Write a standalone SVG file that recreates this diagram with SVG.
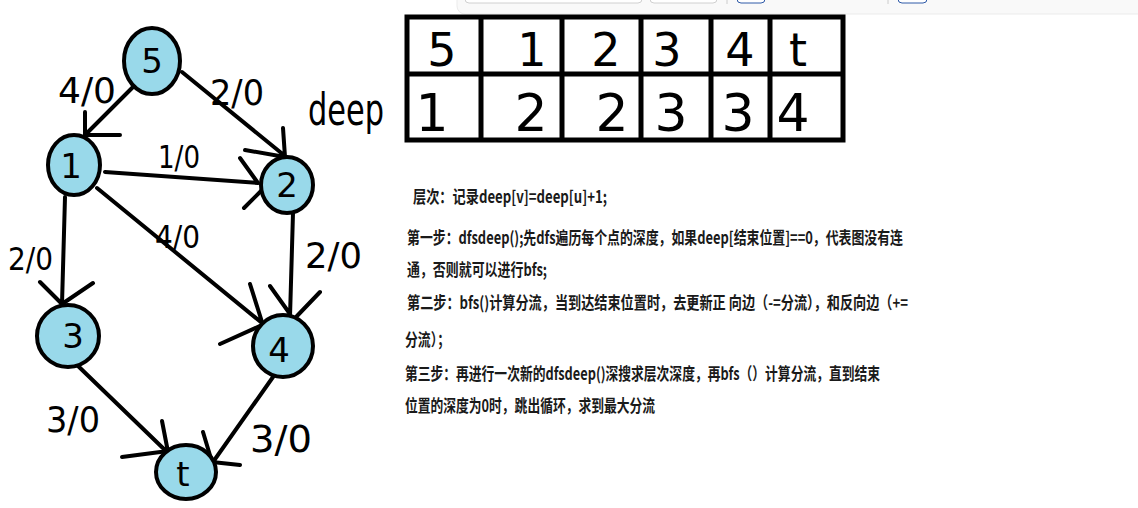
<svg xmlns="http://www.w3.org/2000/svg" width="1138" height="508" viewBox="0 0 1138 508">
<defs>
<style>
.node{fill:#99d9ea;stroke:#000;stroke-width:4}
.edge{fill:none;stroke:#000;stroke-width:4;stroke-linecap:round}
.hand{font-family:"DejaVu Sans","Liberation Sans",sans-serif;fill:#000}
.nl{font-family:"DejaVu Sans","Liberation Sans",sans-serif;font-size:34px;text-anchor:middle;fill:#000}
.tb{font-family:"DejaVu Sans","Liberation Sans",sans-serif;text-anchor:middle;fill:#000}
.zh{font-family:"Noto Sans CJK SC","Noto Sans",sans-serif;font-weight:bold;font-size:17px;fill:#1a1a1a}
</style>
</defs>
<rect width="1138" height="508" fill="#fff"/>
<g id="toolbar">
<rect x="457" y="-20" width="700" height="34" rx="8" fill="#f9f9f9" stroke="#ebebeb" stroke-width="1"/>
<rect x="465" y="-10" width="177" height="13" rx="4" fill="#fff" stroke="#d0d0d0"/>
<rect x="650" y="-10" width="67" height="13" rx="4" fill="#fff" stroke="#d0d0d0"/>
<line x1="727" y1="-2" x2="727" y2="4" stroke="#ccc"/>
<rect x="737" y="-10" width="28" height="13" rx="4" fill="#fff" stroke="#2f5aa8"/>
<line x1="888" y1="-2" x2="888" y2="4" stroke="#ccc"/>
<rect x="898" y="-10" width="29" height="13" rx="4" fill="#fff" stroke="#2f5aa8"/>
</g>
<g id="connectors">
<path class="edge" d="M133 87 L85 135 M85 112 L85 135 L120 135"/>
<path class="edge" d="M182 72 L285 156 M283 128 L285 157 M245 150 L285 157"/>
<path class="edge" d="M105 172 L258 183 M240 158 L258 183 M244 208 L262 190"/>
<path class="edge" d="M97 188 L262 323 M250 284 L262 322 M220 344 L262 325"/>
<path class="edge" d="M65 197 L62 304 M40 282 L62 304 M93 283 L62 304"/>
<path class="edge" d="M293 213 L290 317 M270 286 L290 314 M320 292 L297 316"/>
<path class="edge" d="M77 365 L167 452 M162 421 L168 452 M122 457 L168 451"/>
<path class="edge" d="M273 377 L213 462 M203 432 L212 462 M240 465 L212 462"/>
</g>
<g id="edge-labels" class="hand">
<text x="58" y="103" font-size="36" textLength="58" lengthAdjust="spacingAndGlyphs">4/0</text>
<text x="210" y="105" font-size="36" textLength="54" lengthAdjust="spacingAndGlyphs">2/0</text>
<text x="158" y="168" font-size="32" textLength="42" lengthAdjust="spacingAndGlyphs">1/0</text>
<text x="155" y="248" font-size="32" textLength="45" lengthAdjust="spacingAndGlyphs">4/0</text>
<text x="8" y="270" font-size="32" textLength="45" lengthAdjust="spacingAndGlyphs">2/0</text>
<text x="305" y="268" font-size="36" textLength="57" lengthAdjust="spacingAndGlyphs">2/0</text>
<text x="46" y="432" font-size="36" textLength="54" lengthAdjust="spacingAndGlyphs">3/0</text>
<text x="250" y="452" font-size="38" textLength="62" lengthAdjust="spacingAndGlyphs">3/0</text>
<text x="308" y="125" font-size="44" textLength="76" lengthAdjust="spacingAndGlyphs">deep</text>
</g>
<g id="node-5"><ellipse class="node" cx="152" cy="61" rx="28" ry="33"/><text class="nl" x="152" y="73">5</text></g>
<g id="node-1"><ellipse class="node" cx="74" cy="165" rx="26" ry="30"/><text class="nl" x="71" y="178">1</text></g>
<g id="node-2"><ellipse class="node" cx="287" cy="185" rx="26" ry="28"/><text class="nl" x="287" y="197">2</text></g>
<g id="node-3"><ellipse class="node" cx="68" cy="336" rx="31" ry="31"/><text class="nl" x="73" y="348">3</text></g>
<g id="node-4"><ellipse class="node" cx="283" cy="346" rx="30" ry="31"/><text class="nl" x="279" y="362">4</text></g>
<g id="node-t"><ellipse class="node" cx="186" cy="472" rx="30" ry="27"/><text class="nl" x="183" y="486">t</text></g>
<g id="table">
<rect x="407" y="17" width="436" height="123" fill="none" stroke="#000" stroke-width="5"/>
<line x1="407" y1="74" x2="843" y2="74" stroke="#000" stroke-width="5"/>
<path d="M481 17 V140 M562 17 V140 M641 17 V140 M711 17 V140 M770 17 V140" stroke="#000" stroke-width="5" fill="none"/>
<g class="tb" font-size="46">
<text x="442" y="66">5</text><text x="532" y="66">1</text><text x="606" y="66">2</text><text x="667" y="66">3</text><text x="740" y="66">4</text><text x="798" y="66">t</text>
</g>
<g class="tb" font-size="52">
<text x="432" y="131">1</text><text x="531" y="131">2</text><text x="612" y="131">2</text><text x="671" y="131">3</text><text x="738" y="131">3</text><text x="793" y="131">4</text>
</g>
</g>
<g id="notes" class="zh">
<text x="413" y="203" textLength="194" lengthAdjust="spacingAndGlyphs">层次：记录deep[v]=deep[u]+1;</text>
<text x="407" y="244" textLength="496" lengthAdjust="spacingAndGlyphs">第一步：dfsdeep();先dfs遍历每个点的深度，如果deep[结束位置]==0，代表图没有连</text>
<text x="407" y="276" textLength="140" lengthAdjust="spacingAndGlyphs">通，否则就可以进行bfs;</text>
<text x="407" y="309" textLength="501" lengthAdjust="spacingAndGlyphs">第二步：bfs()计算分流，当到达结束位置时，去更新正 向边（-=分流），和反向边（+=</text>
<text x="405" y="346" textLength="45" lengthAdjust="spacingAndGlyphs">分流）；</text>
<text x="405" y="380" textLength="475" lengthAdjust="spacingAndGlyphs">第三步：再进行一次新的dfsdeep()深搜求层次深度，再bfs（）计算分流，直到结束</text>
<text x="405" y="412" textLength="250" lengthAdjust="spacingAndGlyphs">位置的深度为0时，跳出循环，求到最大分流</text>
</g>
</svg>
